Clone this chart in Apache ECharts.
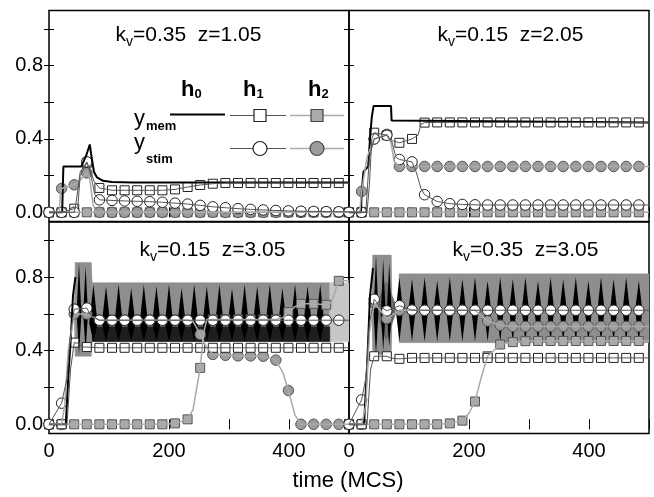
<!DOCTYPE html>
<html><head><meta charset="utf-8">
<script src="https://cdn.jsdelivr.net/npm/echarts@6/dist/echarts.min.js"></script>
<style>html,body{margin:0;padding:0;background:#fff}#c{width:654px;height:497px}</style>
</head><body><div id="c"></div>
<script>
// ---------------- DATA ----------------
const panelTitles = ['=0.35  z=1.05', '=0.15  z=2.05', '=0.15  z=3.05', '=0.35  z=3.05'];
const xTickLabels = [0, 200, 400];
const yTickLabels = [0, 0.4, 0.8];
const yMinorTicks = [0, 0.2, 0.4, 0.6, 0.8, 1.0];

// top-left  kv=0.35 z=1.05
const tlH0Mem = [[0,0],[22,0],[23,0.14],[24,0.25],[54,0.25],[62,0.31],[68,0.37],[71,0.3],[75,0.22],[80,0.19],[90,0.172],[105,0.165],[140,0.163],[500,0.163]];
const tlH1Mem = [[0,0],[21,0],[42,0.02],[48,0.03],[52,0.2],[63,0.27],[68,0.24],[75,0.17],[84,0.133],[105,0.12],[126,0.12],[147,0.12],[168,0.12],[189,0.12],[210,0.125],[231,0.138],[252,0.149],[273,0.156],[294,0.16],[315,0.16],[336,0.16],[357,0.16],[378,0.16],[399,0.16],[420,0.16],[441,0.16],[462,0.16],[483,0.16],[500,0.16]];
const tlH1Stim = [[0,0],[21,0],[42,0],[45,0.05],[52,0.22],[63,0.275],[70,0.2],[76,0.1],[84,0.068],[105,0.065],[126,0.062],[147,0.06],[168,0.058],[189,0.055],[210,0.05],[231,0.045],[252,0.038],[273,0.03],[294,0.025],[315,0.02],[336,0.016],[357,0.013],[378,0.01],[399,0.008],[420,0.006],[441,0.005],[462,0.004],[483,0.003],[500,0.003]];
const tlH2Mem = [[0,0],[21,0],[42,0],[63,0],[84,0],[105,0],[126,0],[147,0],[168,0],[189,0],[210,0],[231,0],[252,0],[273,0],[294,0],[315,0],[336,0],[357,0],[378,0],[399,0],[420,0],[441,0],[462,0],[483,0],[500,0]];
const tlH2Stim = [[0,0],[17,0],[19,0.1],[21,0.13],[42,0.15],[50,0.17],[63,0.215],[68,0.18],[73,0.05],[78,0],[84,0],[105,0],[126,0],[147,0],[168,0],[189,0],[210,0],[231,0],[252,0],[273,0],[294,0],[315,0],[336,0],[357,0],[378,0],[399,0],[420,0],[441,0],[462,0],[483,0],[500,0]];

// top-right  kv=0.15 z=2.05
const trH0Mem = [[0,0],[20,0],[21,0.1],[24,0.22],[32,0.25],[35,0.4],[38,0.52],[41,0.58],[70,0.58],[71,0.5],[74,0.49],[500,0.49]];
const trH1Mem = [[0,0],[21,0],[30,0],[34,0.15],[38,0.4],[42,0.434],[63,0.42],[72,0.39],[84,0.379],[105,0.4],[115,0.42],[120,0.48],[126,0.489],[147,0.49],[168,0.49],[189,0.49],[210,0.49],[231,0.49],[252,0.49],[273,0.49],[294,0.49],[315,0.49],[336,0.49],[357,0.49],[378,0.49],[399,0.49],[420,0.49],[441,0.49],[462,0.49],[483,0.49],[500,0.49]];
const trH1Stim = [[0,0],[21,0],[28,0],[34,0.3],[42,0.4],[63,0.42],[72,0.38],[78,0.3],[84,0.288],[105,0.275],[112,0.22],[120,0.13],[126,0.096],[147,0.059],[168,0.047],[189,0.043],[210,0.041],[231,0.04],[252,0.04],[273,0.04],[294,0.04],[315,0.04],[336,0.04],[357,0.04],[378,0.04],[399,0.04],[420,0.04],[441,0.04],[462,0.04],[483,0.04],[500,0.04]];
const trH2Mem = [[0,0],[21,0],[42,0],[63,0],[84,0],[105,0],[126,0],[147,0],[168,0],[189,0],[210,0],[231,0],[252,0],[273,0],[294,0],[315,0],[336,0],[357,0],[378,0],[399,0],[420,0],[441,0],[462,0],[483,0],[500,0]];
const trH2Stim = [[0,0],[18,0],[20,0.08],[21,0.114],[30,0.3],[42,0.4],[63,0.425],[70,0.38],[75,0.28],[84,0.25],[105,0.25],[126,0.25],[147,0.25],[168,0.25],[189,0.25],[210,0.25],[231,0.25],[252,0.25],[273,0.25],[294,0.25],[315,0.25],[336,0.25],[357,0.25],[378,0.25],[399,0.25],[420,0.25],[441,0.25],[462,0.25],[483,0.25],[500,0.25]];

// bottom-left  kv=0.15 z=3.05
const blH0Mem = [[0,0],[28,0],[32,0.25],[36,0.45],[40,0.7],[44,0.8]];
const blH1Mem = [[0,0],[21,0],[30,0],[36,0.3],[42,0.444],[50,0.44],[55,0.42],[63,0.42],[84,0.416],[105,0.416],[126,0.416],[147,0.416],[168,0.416],[189,0.416],[210,0.416],[231,0.416],[252,0.416],[273,0.416],[294,0.416],[315,0.416],[336,0.416],[357,0.416],[378,0.416],[399,0.416],[420,0.416],[441,0.416],[462,0.416],[483,0.416],[500,0.416]];
const blH1Stim = [[0,0],[21,0.115],[30,0.25],[36,0.5],[42,0.626],[63,0.632],[70,0.59],[84,0.566],[105,0.566],[126,0.566],[147,0.566],[168,0.566],[189,0.566],[210,0.566],[231,0.566],[252,0.566],[273,0.566],[294,0.566],[315,0.566],[336,0.566],[357,0.566],[378,0.566],[399,0.566],[420,0.566],[441,0.566],[462,0.566],[483,0.566],[500,0.566]];
const blH2Mem = [[0,0],[21,0],[42,0],[63,0],[84,0],[105,0],[126,0],[147,0],[168,0],[189,0],[210,0.005],[231,0.027],[240,0.08],[252,0.307],[258,0.5],[263,0.57],[273,0.57],[294,0.57],[315,0.57],[336,0.57],[357,0.57],[378,0.57],[390,0.58],[399,0.61],[410,0.64],[420,0.655],[441,0.655],[462,0.65],[470,0.66],[483,0.78],[500,0.78]];
const blH2Stim = [[0,0],[21,0],[26,0.1],[32,0.4],[42,0.6],[63,0.6],[84,0.566],[105,0.566],[126,0.566],[147,0.566],[168,0.566],[189,0.566],[210,0.566],[231,0.566],[240,0.56],[252,0.489],[262,0.42],[273,0.38],[294,0.375],[315,0.372],[336,0.372],[357,0.37],[378,0.349],[390,0.28],[399,0.184],[410,0.05],[420,0],[441,0],[462,0],[483,0],[500,0]];
// oscillation envelopes (bottom-left)
const blBandT = [42,44,70,72,468];
const blBandLo = [0.6,0.37,0.37,0.45,0.45];
const blBandHi = [0.6,0.88,0.88,0.77,0.77];
const blBaseT = [72,468];
const blBaseLo = [0.45,0.45];
const blBaseHi = [0.53,0.53];
const blEndT = [468,500];
const blEndLo = [0.45,0.45];
const blEndHi = [0.77,0.77];
const blDiaC = [74,95,116,137,158,179,200,221,242,263,284,305,326,347,368,389,410,431,452];
const blDiaTop = [0.76,0.75,0.76,0.74,0.76,0.75,0.76,0.74,0.76,0.75,0.76,0.74,0.76,0.75,0.76,0.74,0.76,0.75,0.76];
const blDiaBot = [0.45,0.45,0.45,0.45,0.45,0.45,0.45,0.45,0.45,0.45,0.45,0.45,0.45,0.45,0.45,0.45,0.45,0.45,0.45];
const blDiaMid = [0.55,0.55,0.55,0.55,0.55,0.55,0.55,0.55,0.55,0.55,0.55,0.55,0.55,0.55,0.55,0.55,0.55,0.55,0.55];
const blSpkC = [50,61];
const blSpkTop = [0.88,0.86];
const blSpkBot = [0.38,0.4];
const blSpkMid = [0.6,0.6];

// bottom-right  kv=0.35 z=3.05
const brH0Mem = [[0,0],[25,0],[30,0.3],[35,0.7],[40,0.85]];
const brH1Mem = [[0,0],[21,0],[30,0],[36,0.3],[42,0.37],[63,0.37],[70,0.36],[84,0.356],[105,0.361],[126,0.361],[147,0.361],[168,0.361],[189,0.361],[210,0.361],[231,0.361],[252,0.361],[273,0.361],[294,0.361],[315,0.361],[336,0.361],[357,0.361],[378,0.361],[399,0.361],[420,0.361],[441,0.361],[462,0.361],[483,0.361],[500,0.361]];
const brH1Stim = [[0,0],[21,0.133],[28,0.25],[34,0.55],[42,0.68],[52,0.64],[63,0.617],[84,0.645],[105,0.621],[126,0.62],[147,0.62],[168,0.62],[189,0.62],[210,0.62],[231,0.62],[252,0.62],[273,0.62],[294,0.62],[315,0.62],[336,0.62],[357,0.62],[378,0.62],[399,0.62],[420,0.62],[441,0.62],[462,0.62],[483,0.62],[500,0.62]];
const brH2Mem = [[0,0],[21,0],[42,0],[63,0],[84,0],[105,0],[126,0],[147,0],[168,0.005],[189,0.02],[200,0.06],[210,0.124],[220,0.25],[231,0.37],[252,0.434],[273,0.447],[294,0.452],[315,0.453],[336,0.453],[357,0.453],[378,0.453],[399,0.453],[420,0.453],[441,0.453],[462,0.453],[483,0.453],[500,0.453]];
const brH2Stim = [[0,0],[21,0],[28,0.1],[34,0.5],[42,0.66],[63,0.575],[84,0.62],[105,0.62],[126,0.62],[147,0.62],[168,0.62],[189,0.62],[210,0.62],[231,0.562],[252,0.539],[273,0.532],[294,0.532],[315,0.532],[336,0.532],[357,0.532],[378,0.532],[399,0.532],[420,0.532],[441,0.532],[462,0.532],[483,0.532],[500,0.532]];
const brBand1T = [38,40,70,72];
const brBand1Lo = [0.6,0.38,0.38,0.6];
const brBand1Hi = [0.6,0.92,0.92,0.6];
const brBand2T = [82,84,500];
const brBand2Lo = [0.62,0.444,0.444];
const brBand2Hi = [0.62,0.818,0.818];
const brStarC = [62];
const brStarTop = [0.78];
const brStarBot = [0.45];
const brStarMid = [0.63];
const brDiaC = [84,105,126,147,168,189,210,231,252,273,294,315,336,357,378,399,420,441,462,483];
const brDiaTop = [0.8,0.79,0.8,0.78,0.8,0.79,0.8,0.78,0.8,0.79,0.8,0.78,0.8,0.79,0.8,0.78,0.8,0.79,0.8,0.78];
const brDiaBot = [0.45,0.45,0.45,0.45,0.45,0.45,0.45,0.45,0.45,0.45,0.45,0.45,0.45,0.45,0.45,0.45,0.45,0.45,0.45,0.45];
const brDiaMid = [0.62,0.62,0.62,0.62,0.62,0.62,0.62,0.62,0.62,0.62,0.62,0.62,0.62,0.62,0.62,0.62,0.62,0.62,0.62,0.62];
const brSpkC = [45,57,67];
const brSpkTop = [0.92,0.9,0.88];
const brSpkBot = [0.38,0.4,0.42];
const brSpkMid = [0.6,0.6,0.6];

// ---------------- CHART ----------------
const FONT = 'Liberation Sans, Arial, Helvetica, sans-serif';
const MARK_STEP = 21, MARK_LAST = 483;
const grids = [
  {left:49, top:10.5, width:300, height:211},
  {left:349, top:10.5, width:300, height:211},
  {left:49, top:222, width:300, height:211.5},
  {left:349, top:222, width:300, height:211.5}
];
const xAxis = [], yAxis = [];
grids.forEach((g, i) => {
  const bottomRow = i >= 2, leftCol = i % 2 === 0;
  const tick = {show:true, inside:true, length:5, lineStyle:{color:'#000', width:1}};
  xAxis.push({gridIndex:i, type:'value', min:0, max:500, interval:100, position:'bottom',
    axisLine:{show:false}, splitLine:{show:false}, axisTick:tick,
    axisLabel:{show:bottomRow, customValues:xTickLabels, fontSize:20, fontFamily:FONT, color:'#000', margin:8}});
  xAxis.push({gridIndex:i, type:'value', min:0, max:500, interval:100, position:'top',
    axisLine:{show:false}, splitLine:{show:false}, axisTick:tick, axisLabel:{show:false}});
  yAxis.push({gridIndex:i, type:'value', min:-0.05, max:1.1, position:'left',
    axisLine:{show:false}, splitLine:{show:false},
    axisTick:Object.assign({customValues:yMinorTicks}, tick),
    axisLabel:{show:leftCol, customValues:yTickLabels, formatter:v => v.toFixed(1), fontSize:20, fontFamily:FONT, color:'#000', margin:6}});
  yAxis.push({gridIndex:i, type:'value', min:-0.05, max:1.1, position:'right',
    axisLine:{show:false}, splitLine:{show:false},
    axisTick:Object.assign({customValues:yMinorTicks}, tick), axisLabel:{show:false}});
});

// band between lo and hi envelopes, drawn as quads through the axis scales
function band(g, ts, lo, hi, color) {
  const data = [];
  for (let k = 0; k < ts.length - 1; k++) data.push([ts[k], lo[k], hi[k], ts[k+1], lo[k+1], hi[k+1]]);
  return {type:'custom', xAxisIndex:2*g, yAxisIndex:2*g, silent:true, clip:true, data,
    renderItem: (params, api) => ({type:'polygon',
      shape:{points:[api.coord([api.value(0), api.value(1)]), api.coord([api.value(3), api.value(4)]),
                     api.coord([api.value(3), api.value(5)]), api.coord([api.value(0), api.value(2)])]},
      style:{fill:color, stroke:color, lineWidth:0.5}})};
}
function diamonds(g, cs, tops, bots, mids, hw, color) {
  return {type:'custom', xAxisIndex:2*g, yAxisIndex:2*g, silent:true, clip:true,
    data: cs.map((c,k)=>[c, tops[k], bots[k], mids[k]]),
    renderItem: (params, api) => {
      const c = api.value(0), m = api.value(3);
      return {type:'polygon', shape:{points:[api.coord([c-hw, m]), api.coord([c, api.value(1)]), api.coord([c+hw, m]), api.coord([c, api.value(2)])]}, style:{fill:color}};
    }};
}
function line(g, pts, color, width) {
  return {type:'line', xAxisIndex:2*g, yAxisIndex:2*g, data:pts, symbol:'none', lineStyle:{color, width}, silent:true};
}
function markers(g, pts, symbol, size, fill, border) {
  return {type:'scatter', xAxisIndex:2*g, yAxisIndex:2*g, silent:true,
    data: pts.filter(p => p[0] % MARK_STEP === 0 && p[0] <= MARK_LAST),
    symbol, symbolSize:size, itemStyle:{color:fill, borderColor:border, borderWidth:1, opacity:1}};
}
const C1 = '#555', C2 = '#aaa';
function curves(g, h0, h1m, h1s, h2m, h2s) {
  return [
    line(g, h0, '#000', 2),
    line(g, h2m, C2, 1.5), line(g, h2s, C2, 1.5),
    line(g, h1m, C1, 1), line(g, h1s, C1, 1),
    markers(g, h2m, 'rect', 9, '#aaa', '#555'),
    markers(g, h2s, 'circle', 10.5, '#9c9c9c', '#555'),
    markers(g, h1m, 'rect', 9, '#fff', '#222'),
    markers(g, h1s, 'circle', 10.5, '#fff', '#222')
  ];
}

const series = [].concat(
  curves(0, tlH0Mem, tlH1Mem, tlH1Stim, tlH2Mem, tlH2Stim),
  curves(1, trH0Mem, trH1Mem, trH1Stim, trH2Mem, trH2Stim),
  [band(2, blBandT, blBandLo, blBandHi, '#8e8e8e'),
   band(2, blEndT, blEndLo, blEndHi, '#c6c6c6'),
   band(2, blBaseT, blBaseLo, blBaseHi, '#1e1e1e'),
   diamonds(2, blSpkC, blSpkTop, blSpkBot, blSpkMid, 4, '#000'),
   diamonds(2, blDiaC, blDiaTop, blDiaBot, blDiaMid, 7, '#000')],
  curves(2, blH0Mem, blH1Mem, blH1Stim, blH2Mem, blH2Stim),
  [band(3, brBand1T, brBand1Lo, brBand1Hi, '#8e8e8e'),
   band(3, brBand2T, brBand2Lo, brBand2Hi, '#8e8e8e'),
   diamonds(3, brStarC, brStarTop, brStarBot, brStarMid, 19, '#6e6e6e'),
   diamonds(3, brSpkC, brSpkTop, brSpkBot, brSpkMid, 4, '#000'),
   diamonds(3, brDiaC, brDiaTop, brDiaBot, brDiaMid, 6, '#000')],
  curves(3, brH0Mem, brH1Mem, brH1Stim, brH2Mem, brH2Stim)
);

// ---------------- TEXT & LEGEND ----------------
function titleText(x, y, rest) {
  return {type:'text', x, y, z:100, silent:true, style:{text:'{a|k}{b|v}{a|' + rest + '}', align:'center', verticalAlign:'middle',
    rich:{a:{fontSize:21, fontFamily:FONT, fill:'#000', lineHeight:28}, b:{fontSize:14, fontFamily:FONT, fill:'#000', lineHeight:14, verticalAlign:'bottom'}}}};
}
function txt(x, y, s, size, bold, align) {
  return {type:'text', x, y, z:100, silent:true, style:{text:s, fontSize:size, fontFamily:FONT, fontWeight:bold?'bold':'normal', fill:'#000', align:align||'left', verticalAlign:'middle'}};
}
const graphic = [
  titleText(188.5, 35, panelTitles[0]),
  titleText(510.5, 35, panelTitles[1]),
  titleText(212.5, 250, panelTitles[2]),
  titleText(525.5, 250, panelTitles[3]),
  {type:'text', x:348, y:481, z:100, silent:true, style:{text:'time (MCS)', fontSize:22, fontFamily:FONT, fill:'#000', align:'center', verticalAlign:'middle'}},
  // legend headers
  txt(181, 89.5, 'h', 22, true), txt(194.5, 94, '0', 13, true),
  txt(243, 89.5, 'h', 22, true), txt(256.5, 94, '1', 13, true),
  txt(308, 89.5, 'h', 22, true), txt(321.5, 94, '2', 13, true),
  txt(134, 118.5, 'y', 22, false), txt(146, 126, 'mem', 13, true),
  txt(134, 142.5, 'y', 22, false), txt(146, 159, 'stim', 13, true),
  // legend symbols
  {type:'line', z:100, silent:true, shape:{x1:170, y1:114.5, x2:225, y2:114.5}, style:{stroke:'#000', lineWidth:2}},
  {type:'line', z:100, silent:true, shape:{x1:230, y1:115.5, x2:286, y2:115.5}, style:{stroke:C1, lineWidth:1.2}},
  {type:'rect', z:101, silent:true, shape:{x:254, y:109.5, width:12, height:12}, style:{fill:'#fff', stroke:'#222', lineWidth:1.2}},
  {type:'line', z:100, silent:true, shape:{x1:290, y1:115.5, x2:344, y2:115.5}, style:{stroke:C2, lineWidth:1.5}},
  {type:'rect', z:101, silent:true, shape:{x:311, y:109.5, width:12, height:12}, style:{fill:'#aaa', stroke:'#444', lineWidth:1.2}},
  {type:'line', z:100, silent:true, shape:{x1:230, y1:148.5, x2:286, y2:148.5}, style:{stroke:C1, lineWidth:1.2}},
  {type:'circle', z:101, silent:true, shape:{cx:260, cy:148.5, r:7}, style:{fill:'#fff', stroke:'#222', lineWidth:1.2}},
  {type:'line', z:100, silent:true, shape:{x1:290, y1:148.5, x2:344, y2:148.5}, style:{stroke:C2, lineWidth:1.5}},
  {type:'circle', z:101, silent:true, shape:{cx:317, cy:148.5, r:7}, style:{fill:'#9c9c9c', stroke:'#444', lineWidth:1.2}}
];

const chart = echarts.init(document.getElementById('c'), null, {renderer:'canvas'});
chart.setOption({
  animation:false,
  backgroundColor:'#fff',
  grid: grids.map(g => Object.assign({show:true, borderColor:'#000', borderWidth:1.5, backgroundColor:'transparent', containLabel:false}, g)),
  xAxis, yAxis, series, graphic
});
</script></body></html>
